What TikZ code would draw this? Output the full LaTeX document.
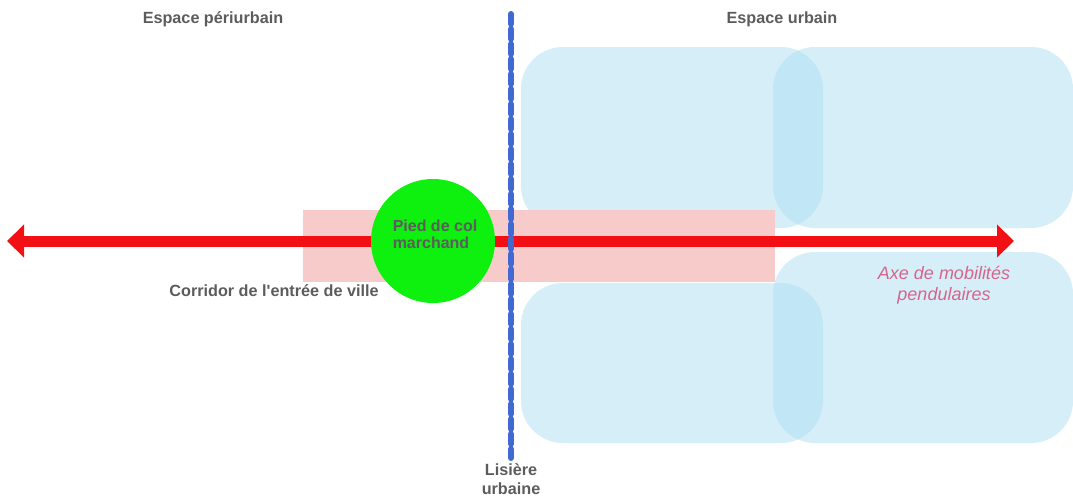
\documentclass[tikz,border=0pt]{standalone}
\usepackage{fontspec}
\setmainfont{Liberation Sans}
\usetikzlibrary{arrows.meta}
\definecolor{zoneblue}{RGB}{173,222,242}
\definecolor{corridorpink}{RGB}{248,203,203}
\definecolor{axisred}{RGB}{242,16,20}
\definecolor{hubgreen}{RGB}{14,240,14}
\definecolor{edgeblue}{RGB}{65,105,210}
\definecolor{labelgray}{RGB}{92,92,92}
\definecolor{axispink}{RGB}{215,100,140}
\tikzset{
  zone/.style={fill=zoneblue, fill opacity=0.5, draw=none, rounded corners=42pt},
  title/.style={font=\bfseries\fontsize{16.2}{18}\selectfont, text=labelgray, inner sep=0pt},
  axislabel/.style={font=\itshape\fontsize{18}{21}\selectfont, text=axispink, align=center, inner sep=0pt},
  axisline/.style={draw=axisred, line width=11pt, {Triangle[length=17pt,width=32pt]}-{Triangle[length=17pt,width=32pt]}},
  edgeline/.style={draw=edgeblue, line width=6pt, line cap=round, dash pattern=on 10pt off 5pt}
}
\begin{document}
\begin{tikzpicture}[x=1pt,y=-1pt]
\useasboundingbox (0,0) rectangle (1073,499);
% urban zones
\fill[zone] (521,47) rectangle (823,228);
\fill[zone] (773,47) rectangle (1073,228);
\fill[zone] (521,283) rectangle (823,443);
\fill[zone] (773,252) rectangle (1073,443);
% corridor
\fill[corridorpink] (303,210) rectangle (775,282);
% axis
\coordinate (axL) at (7,241);
\coordinate (axR) at (1014,241);
\draw[axisline] (axL) -- (axR);
% hub
\node[circle, fill=hubgreen, minimum size=124pt, inner sep=0pt] (hub) at (433,241) {};
\node[font=\bfseries\fontsize{16}{17}\selectfont, text=labelgray, align=left, inner sep=0pt] (hubtext) at (435,234) {Pied de col\\marchand};
% edge line
\coordinate (edT) at (511,14);
\coordinate (edB) at (511,458);
\draw[edgeline] (edT) -- (edB);
% labels
\node[title] (peri) at (213,19) {Espace périurbain};
\node[title] (urb) at (782,19) {Espace urbain};
\node[title] (corr) at (274,291) {Corridor de l\textquotesingle entrée de ville};
\node[title, align=center, font=\bfseries\fontsize{16.2}{19}\selectfont] (lis) at (511,479) {Lisière\\urbaine};
\node[axislabel] (axe) at (944,285) {Axe de mobilités\\pendulaires};
\end{tikzpicture}
\end{document}
